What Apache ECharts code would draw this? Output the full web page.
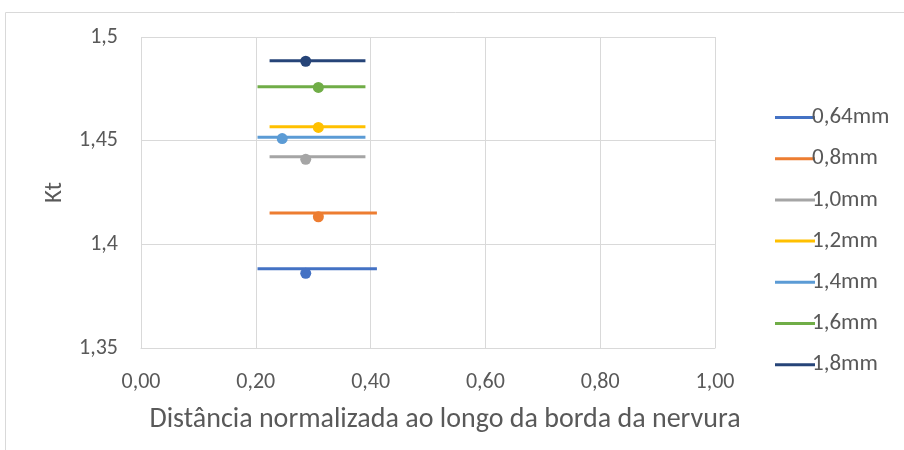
<!DOCTYPE html>
<html><head><meta charset="utf-8">
<script src="https://cdn.jsdelivr.net/npm/echarts@6/dist/echarts.min.js"></script>
<style>html,body{margin:0;padding:0;background:#fff}#c{width:904px;height:450px}</style>
</head><body><div id="c"></div>
<script>
var seriesNames = ['0,64mm','0,8mm','1,0mm','1,2mm','1,4mm','1,6mm','1,8mm'];
var colors = ['#4472C4','#ED7D31','#A5A5A5','#FFC000','#5B9BD5','#70AD47','#264478'];
var lineStart = [0.203,0.224,0.224,0.224,0.203,0.203,0.224];
var lineEnd   = [0.411,0.411,0.391,0.391,0.391,0.391,0.391];
var lineY     = [1.3882,1.4151,1.4423,1.4567,1.4516,1.4760,1.4886];
var pointX    = [0.287,0.309,0.287,0.309,0.246,0.309,0.287];
var pointY    = [1.3860,1.4133,1.4410,1.4564,1.4510,1.4757,1.4883];
var xTicks = {min:0, max:1, interval:0.2};
var yTicks = {min:1.35, max:1.5, interval:0.05};

var series = [];
seriesNames.forEach(function(n,i){
  series.push({name:n,type:'line',data:[[lineStart[i],lineY[i]],[lineEnd[i],lineY[i]]],
    symbol:'none',lineStyle:{color:colors[i],width:3},itemStyle:{color:colors[i]},z:2});
});
seriesNames.forEach(function(n,i){
  series.push({name:n,type:'scatter',data:[[pointX[i],pointY[i]]],
    symbol:'circle',symbolSize:11,itemStyle:{color:colors[i],opacity:1},z:3});
});
var font = 'Carlito, "Open Sans", "Noto Sans", sans-serif';
var chart = echarts.init(document.getElementById('c'),null,{renderer:'canvas'});
chart.setOption({
  animation:false,
  textStyle:{fontFamily:font},
  graphic:[{type:'rect',shape:{x:5.5,y:12.5,width:1000,height:1000},style:{fill:'none',stroke:'#d9d9d9',lineWidth:1}}],
  grid:{left:141,top:37,width:574,height:311},
  legend:{orient:'vertical',left:770,top:100.5,itemGap:17.2,itemWidth:40,itemHeight:3,icon:'rect',
    data:seriesNames,textStyle:{color:'#595959',fontSize:23,lineHeight:24,fontFamily:font,padding:[0,0,0,-8]}},
  xAxis:{type:'value',min:xTicks.min,max:xTicks.max,interval:xTicks.interval,
    name:'Distância normalizada ao longo da borda da nervura',nameLocation:'middle',nameGap:58,
    nameTextStyle:{color:'#595959',fontSize:28,fontFamily:font,padding:[0,0,0,34]},
    axisLine:{show:true,lineStyle:{color:'#d9d9d9'}},axisTick:{show:false},
    axisLabel:{color:'#595959',fontSize:22,margin:23,fontFamily:font,formatter:function(v){return v.toFixed(2).replace('.',',');}},
    splitLine:{show:true,lineStyle:{color:'#d9d9d9',width:1}}},
  yAxis:{type:'value',min:yTicks.min,max:yTicks.max,interval:yTicks.interval,
    name:'Kt',nameLocation:'middle',nameGap:74,nameRotate:90,
    nameTextStyle:{color:'#595959',fontSize:25,fontFamily:font},
    axisLine:{show:false},axisTick:{show:false},
    axisLabel:{color:'#595959',fontSize:22,margin:23,fontFamily:font,formatter:function(v){return String(Math.round(v*100)/100).replace('.',',');}},
    splitLine:{show:true,lineStyle:{color:'#d9d9d9',width:1}}},
  series:series
});
</script></body></html>
